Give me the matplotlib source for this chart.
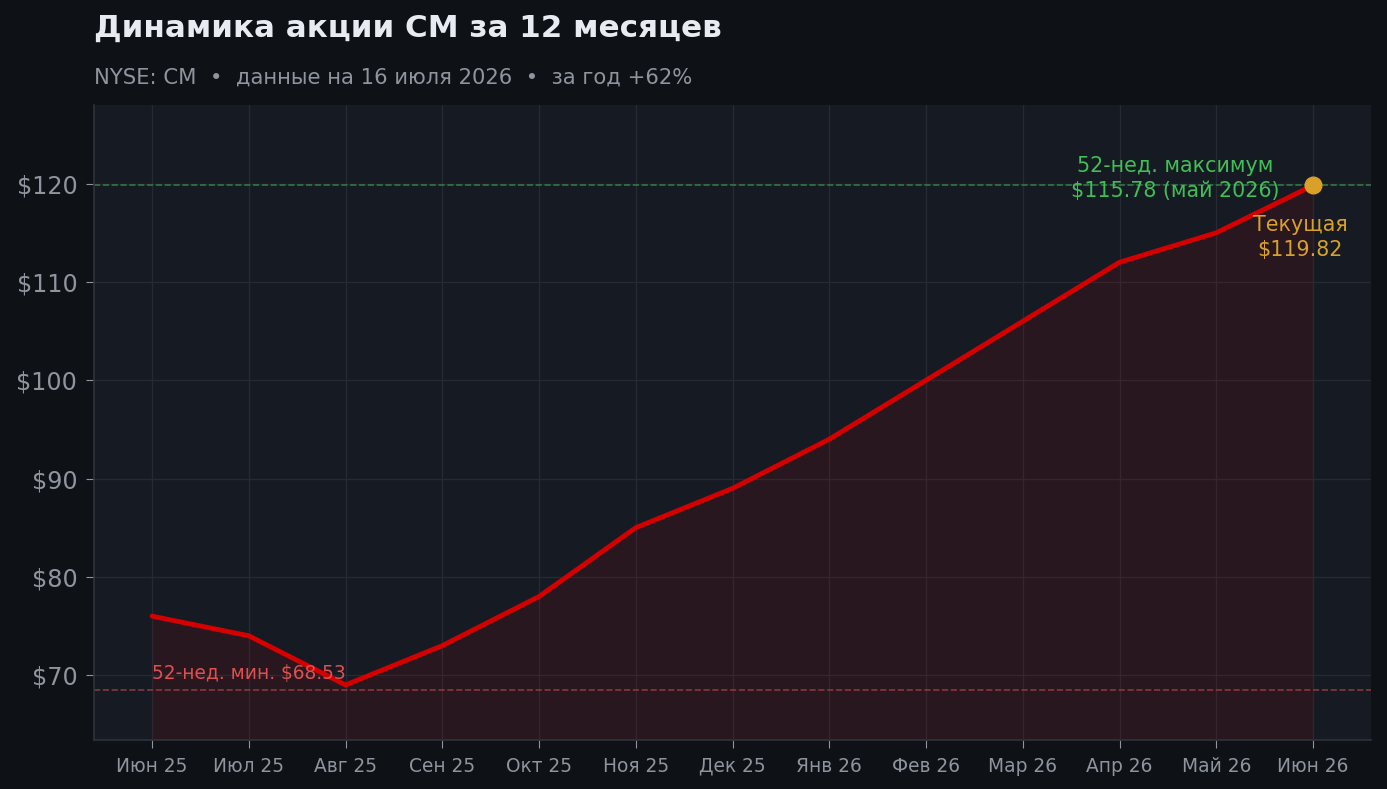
import matplotlib
matplotlib.use("Agg")
import matplotlib.pyplot as plt

months = ["Июн 25", "Июл 25", "Авг 25", "Сен 25", "Окт 25", "Ноя 25", "Дек 25",
          "Янв 26", "Фев 26", "Мар 26", "Апр 26", "Май 26", "Июн 26"]
prices = [76, 74, 69, 73, 78, 85, 89, 94, 100, 106, 112, 115, 119.82]
low_52w = 68.53
high_52w_label = 115.78
current = 119.82
yticks = [70, 80, 90, 100, 110, 120]

FIG_BG = "#0e1216"
AX_BG = "#161a22"
GRID = "#252a33"
TICK = "#8e959f"

fig = plt.figure(figsize=(13.87, 7.89), dpi=100, facecolor=FIG_BG)
ax = fig.add_axes([0.0678, 0.0621, 0.9207, 0.8048])
ax.set_facecolor(AX_BG)

x = list(range(len(months)))
ymin, ymax = 63.4, 128.0

ax.fill_between(x, prices, ymin, color="#c80010", alpha=0.11, linewidth=0)
ax.plot(x, prices, color="#d40000", linewidth=3.5, solid_capstyle="round", zorder=3)

# линии 52-недельных экстремумов
ax.axhline(max(prices), color="#3a8a4c", linestyle="--", linewidth=1.2, alpha=0.8, zorder=2)
ax.axhline(low_52w, color="#a04040", linestyle="--", linewidth=1.2, alpha=0.8, zorder=2)

ax.plot([x[-1]], [current], "o", color="#d9a02a", markersize=12, zorder=4)

ax.text(10.58, 120.5, f"52-нед. максимум\n${high_52w_label:.2f} (май 2026)",
        color="#3fbf55", fontsize=14.9, ha="center", va="center", linespacing=1.32)
ax.text(11.87, 114.5, f"Текущая\n${current:.2f}", color="#d9a02a",
        fontsize=14.9, ha="center", va="center", linespacing=1.32)
ax.text(0, 70.2, f"52-нед. мин. ${low_52w:.2f}", color="#e05050",
        fontsize=13.4, ha="left", va="center")

ax.set_xlim(-0.6, 12.6)
ax.set_ylim(ymin, ymax)
ax.set_xticks(x)
ax.set_xticklabels(months)
ax.set_yticks(yticks)
ax.set_yticklabels([f"${v}" for v in yticks])

ax.grid(True, color=GRID, linewidth=1)
ax.set_axisbelow(True)
ax.tick_params(axis="x", colors=TICK, labelsize=13.4, length=6, pad=6)
ax.tick_params(axis="y", colors=TICK, labelsize=17.2, length=6, pad=6)
for side in ["top", "right"]:
    ax.spines[side].set_visible(False)
for side in ["left", "bottom"]:
    ax.spines[side].set_color("#2e333c")
    ax.spines[side].set_linewidth(1.2)

fig.text(0.0678, 0.9645, "Динамика акции CM за 12 месяцев", color="#e8ecf2",
         fontsize=22.3, fontweight="bold", ha="left", va="center")
fig.text(0.0678, 0.902, "NYSE: CM  •  данные на 16 июля 2026  •  за год +62%",
         color="#8e959f", fontsize=15.2, ha="left", va="center")

fig.savefig("out.png", dpi=100, facecolor=FIG_BG)
